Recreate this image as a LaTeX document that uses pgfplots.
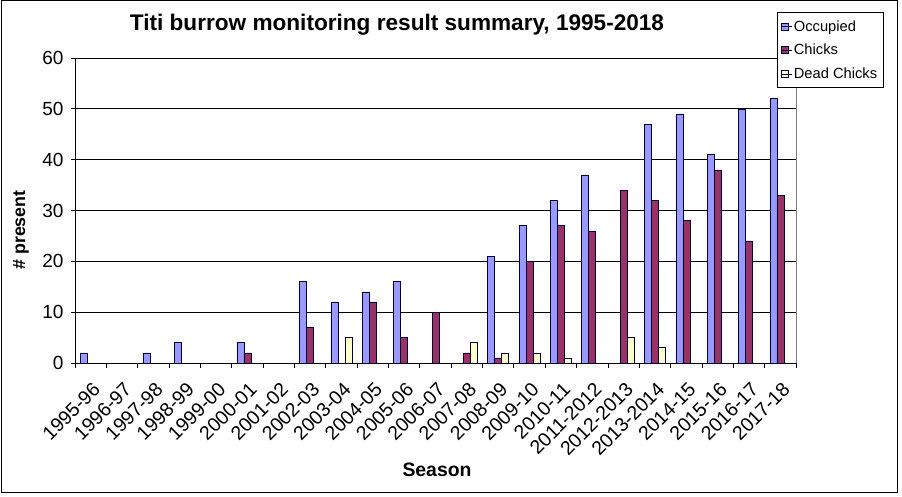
\documentclass[border=0pt]{standalone}
\usepackage{pgfplots}
\pgfplotsset{compat=1.18}
\usepackage{fontspec}
\setmainfont{Liberation Sans}
\definecolor{occ}{HTML}{9999FF}
\definecolor{chk}{HTML}{993366}
\definecolor{dead}{HTML}{FFFFCC}
\definecolor{edge}{HTML}{000033}
\begin{document}
\begin{tikzpicture}[x=1pt,y=1pt]
\useasboundingbox (0,0) rectangle (902,497);
\draw[black, line width=1pt] (1,4) rectangle (897,496.5);
\node[font=\bfseries\fontsize{22.6}{26}\selectfont] at (397,472) {Titi burrow monitoring result summary, 1995-2018};
\node[font=\bfseries\fontsize{17.8}{22}\selectfont, rotate=90] at (21,267) {\# present};
\node[font=\bfseries\fontsize{19.4}{23}\selectfont] at (437,27) {Season};
\begin{axis}[
  at={(75pt,134pt)}, anchor=south west,
  scale only axis, width=721pt, height=305pt,
  xmin=-0.5, xmax=22.5, ymin=0, ymax=60,
  axis x line=bottom, axis y line=left, axis line style={-, black, line width=0.8pt},
  ybar=0pt, bar width=7pt,
  ytick={0,10,...,60},
  ymajorgrids, grid style={black, line width=0.8pt},
  tick align=outside, major tick length=4pt, minor tick length=5pt,
  xtick={0,...,22},
  major x tick style={draw=none},
  minor xtick={-0.5,0.5,...,22.5},
  minor x tick style={black, line width=0.8pt},
  ytick style={black, line width=0.8pt},
  xticklabels={1995-96,1996-97,1997-98,1998-99,1999-00,2000-01,2001-02,2002-03,2003-04,2004-05,2005-06,2006-07,2007-08,2008-09,2009-10,2010-11,2011-2012,2012-2013,2013-2014,2014-15,2015-16,2016-17,2017-18},
  xticklabel style={rotate=45, anchor=north east, font=\fontsize{19.5}{21}\selectfont, inner sep=0pt, xshift=-9.2pt, yshift=-10.6pt},
  yticklabel style={font=\fontsize{19}{21}\selectfont, xshift=-4pt},
  /pgf/number format/assume math mode=true,
  legend style={at={(axis description cs:0.9736,1.1508)}, anchor=north west, draw=black, line width=0.8pt, font=\fontsize{14.7}{17}\selectfont, row sep=7.5pt, inner xsep=4pt, inner ysep=6pt},
  legend cell align=left,
  legend image code/.code={\draw[#1, line width=0.5pt] (0pt,-3.5pt) rectangle (7pt,3.5pt); \path (0pt,0pt) -- (10pt,0pt);},
  clip=false,
]
\addplot[fill=occ, draw=edge, line width=0.5pt] coordinates {(0,2) (2,2) (3,4) (5,4) (7,16) (8,12) (9,14) (10,16) (13,21) (14,27) (15,32) (16,37) (18,47) (19,49) (20,41) (21,50) (22,52)};
\addplot[fill=chk, draw=edge, line width=0.5pt] coordinates {(5,2) (7,7) (9,12) (10,5) (11,10) (12,2) (13,1) (14,20) (15,27) (16,26) (17,34) (18,32) (19,28) (20,38) (21,24) (22,33)};
\addplot[fill=dead, draw=edge, line width=0.5pt] coordinates {(8,5) (12,4) (13,2) (14,2) (15,1) (17,5) (18,3)};
\legend{Occupied,Chicks,Dead Chicks}
\draw[gray, line width=0.8pt] (rel axis cs:1,0) -- (rel axis cs:1,1);
\end{axis}
\end{tikzpicture}
\end{document}
